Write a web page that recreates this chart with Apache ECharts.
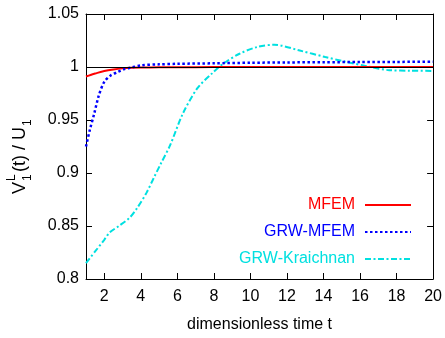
<!DOCTYPE html>
<html>
<head>
<meta charset="utf-8">
<script src="https://cdn.jsdelivr.net/npm/echarts@6/dist/echarts.min.js"></script>
<style>html,body{margin:0;padding:0;background:#fff}#c{width:445px;height:338px}</style>
</head>
<body>
<div id="c"></div>
<script>
const seriesNames = ['MFEM', 'GRW-MFEM', 'GRW-Kraichnan'];
const xTicks = [2, 4, 6, 8, 10, 12, 14, 16, 18, 20];
const mfemT = [1, 1.25, 1.5, 2, 2.5, 3, 3.5, 4, 5, 6, 8, 10, 12, 14, 16, 18, 20];
const mfemV = [0.991, 0.9925, 0.9938, 0.9962, 0.9977, 0.9987, 0.9992, 0.9995, 0.9997, 0.9998, 0.9999, 0.9999, 1.0, 1.0, 1.0, 1.0, 1.0];
const grwT = [1, 1.2, 1.45, 1.7, 2, 2.35, 2.7, 3.1, 3.5, 4, 5, 6, 8, 10, 12, 14, 16, 18, 20];
const grwV = [0.925, 0.94, 0.956, 0.973, 0.986, 0.992, 0.995, 0.998, 0.9995, 1.0015, 1.0025, 1.003, 1.0035, 1.004, 1.0043, 1.0045, 1.0047, 1.0048, 1.005];
const kraT = [1, 1.5, 2, 2.3, 2.8, 3.4, 3.8, 4.3, 4.7, 5.1, 5.6, 6.3, 7.1, 7.9, 8.5, 9.4, 10.4, 11.3, 12.7, 14.1, 15.2, 16.5, 17.6, 18.8, 20];
const kraV = [0.815, 0.826, 0.837, 0.844, 0.850, 0.858, 0.867, 0.881, 0.895, 0.909, 0.926, 0.956, 0.980, 0.994, 1.003, 1.0125, 1.019, 1.021, 1.0155, 1.0094, 1.005, 1.0003, 0.997, 0.9965, 0.9963];

const zip = (a, b) => a.map((x, i) => [x, b[i]]);
const FONT = '"Liberation Sans", Arial, Helvetica, sans-serif';
const colors = ['#ff0000', '#0000ff', '#00e0e0'];

const chart = echarts.init(document.getElementById('c'), null, {renderer: 'canvas'});
const xBase = {
  type: 'value', min: 1, max: 20,
  axisLine: {show: true, onZero: false, lineStyle: {color: '#000', width: 1}},
  axisTick: {show: true, inside: true, length: 6, customValues: xTicks, lineStyle: {color: '#000'}},
  splitLine: {show: false}
};
const yBase = {
  type: 'value', min: 0.8, max: 1.05, interval: 0.05,
  axisLine: {show: true, onZero: false, lineStyle: {color: '#000', width: 1}},
  axisTick: {show: true, inside: true, length: 6, lineStyle: {color: '#000'}},
  splitLine: {show: false}
};
chart.setOption({
  animation: false,
  backgroundColor: '#fff',
  textStyle: {fontFamily: FONT},
  grid: {left: 86, right: 11, top: 14, bottom: 51},
  xAxis: [
    Object.assign({}, xBase, {position: 'bottom',
      axisLabel: {show: true, customValues: xTicks, color: '#000', fontSize: 16, fontFamily: FONT, margin: 10},
      name: 'dimensionless time t', nameLocation: 'middle', nameGap: 38,
      nameTextStyle: {color: '#000', fontSize: 16, fontFamily: FONT}}),
    Object.assign({}, xBase, {position: 'top', axisLabel: {show: false}})
  ],
  yAxis: [
    Object.assign({}, yBase, {position: 'left',
      axisLabel: {show: true, color: '#000', fontSize: 16, fontFamily: FONT, margin: 7}}),
    Object.assign({}, yBase, {position: 'right', axisLabel: {show: false}})
  ],
  legend: {
    orient: 'vertical', right: 28, top: 192, align: 'right',
    itemWidth: 46, itemHeight: 14, itemGap: 11,
    itemStyle: {opacity: 0},
    textStyle: {fontSize: 16, fontFamily: FONT, padding: [0, 5, 0, 0]},
    data: seriesNames.map((n, i) => ({name: n, textStyle: {color: colors[i]}}))
  },
  graphic: [{
    type: 'group', x: 26, y: 194, rotation: Math.PI / 2,
    children: [
      {type: 'text', x: 0, y: -6, style: {text: 'V', font: '18px ' + FONT, fill: '#000', verticalAlign: 'middle'}},
      {type: 'text', x: 13, y: -14, style: {text: 'L', font: '12px ' + FONT, fill: '#000', verticalAlign: 'middle'}},
      {type: 'text', x: 13, y: 2, style: {text: '1', font: '12px ' + FONT, fill: '#000', verticalAlign: 'middle'}},
      {type: 'text', x: 22, y: -6, style: {text: '(t) / U', font: '18px ' + FONT, fill: '#000', verticalAlign: 'middle'}},
      {type: 'text', x: 68, y: 2, style: {text: '1', font: '12px ' + FONT, fill: '#000', verticalAlign: 'middle'}}
    ]
  }],
  series: [
    {name: seriesNames[0], type: 'line', data: zip(mfemT, mfemV), showSymbol: false, symbol: 'none', smooth: 0.3,
      lineStyle: {color: colors[0], width: 2}, itemStyle: {color: colors[0]}, z: 3,
      markLine: {silent: true, symbol: 'none', label: {show: false},
        lineStyle: {color: '#000', width: 1, type: 'solid'}, data: [{yAxis: 1}]}},
    {name: seriesNames[1], type: 'line', data: zip(grwT, grwV), showSymbol: false, symbol: 'none', smooth: 0.3,
      lineStyle: {color: colors[1], width: 2.5, type: [2.5, 2.5]}, itemStyle: {color: colors[1]}, z: 4},
    {name: seriesNames[2], type: 'line', data: zip(kraT, kraV), showSymbol: false, symbol: 'none', smooth: 0.3,
      lineStyle: {color: colors[2], width: 2, type: [6, 2.5, 2, 2.5]}, itemStyle: {color: colors[2]}, z: 2}
  ]
});
</script>
</body>
</html>
